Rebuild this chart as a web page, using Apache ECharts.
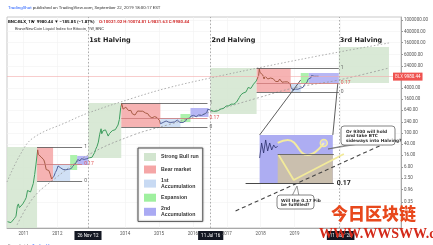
<!DOCTYPE html>
<html>
<head>
<meta charset="utf-8">
<script src="https://cdn.jsdelivr.net/npm/echarts@6/dist/echarts.min.js"></script>
<style>html,body{margin:0;padding:0;background:#fff}#chart{width:433px;height:245px}</style>
</head>
<body>
<div id="chart"></div>
<script>
// weekly BLX closes (decimal year, USD)
var priceDates = [2010.53,2010.58,2010.63,2010.68,2010.73,2010.78,2010.82,2010.85,2010.88,2010.93,2010.98,
  2011.04,2011.08,2011.12,2011.17,2011.21,2011.25,2011.29,2011.33,2011.37,2011.42,2011.44,2011.48,2011.52,2011.56,2011.60,2011.63,2011.67,2011.71,2011.75,2011.79,2011.83,2011.87,2011.90,2011.94,2011.98,
  2012.02,2012.06,2012.10,2012.13,2012.17,2012.21,2012.25,2012.29,2012.33,2012.37,2012.41,2012.45,2012.49,2012.52,2012.56,2012.60,2012.64,2012.67,2012.71,2012.75,2012.79,2012.83,2012.87,2012.90,2012.94,2012.98,
  2013.02,2013.06,2013.10,2013.13,2013.17,2013.21,2013.25,2013.29,2013.31,2013.35,2013.38,2013.42,2013.46,2013.50,2013.54,2013.58,2013.62,2013.67,2013.71,2013.75,2013.79,2013.83,2013.87,2013.90,2013.94,2013.98,
  2014.02,2014.06,2014.10,2014.13,2014.17,2014.21,2014.25,2014.29,2014.33,2014.37,2014.41,2014.44,2014.48,2014.52,2014.56,2014.60,2014.63,2014.67,2014.71,2014.75,2014.79,2014.83,2014.87,2014.90,2014.94,2014.98,
  2015.02,2015.04,2015.08,2015.12,2015.17,2015.21,2015.25,2015.29,2015.35,2015.40,2015.46,2015.50,2015.54,2015.58,2015.62,2015.67,2015.71,2015.75,2015.79,2015.83,2015.87,2015.90,2015.94,2015.98,
  2016.02,2016.06,2016.10,2016.13,2016.17,2016.21,2016.25,2016.29,2016.33,2016.37,2016.41,2016.44,2016.48,2016.52,2016.56,2016.60,2016.63,2016.67,2016.71,2016.75,2016.79,2016.83,2016.87,2016.90,2016.94,2016.98,
  2017.02,2017.06,2017.10,2017.13,2017.17,2017.21,2017.25,2017.29,2017.33,2017.37,2017.41,2017.44,2017.48,2017.52,2017.56,2017.60,2017.63,2017.67,2017.71,2017.75,2017.79,2017.83,2017.87,2017.90,2017.94,2017.96,2017.98,
  2018.02,2018.06,2018.10,2018.13,2018.17,2018.21,2018.25,2018.29,2018.33,2018.37,2018.41,2018.44,2018.48,2018.52,2018.56,2018.60,2018.63,2018.67,2018.71,2018.75,2018.79,2018.83,2018.87,2018.90,2018.94,2018.96,2018.98,
  2019.02,2019.06,2019.10,2019.13,2019.17,2019.21,2019.25,2019.29,2019.33,2019.37,2019.40,2019.44,2019.48,2019.50,2019.52,2019.54,2019.58,2019.62,2019.65,2019.69,2019.71,2019.72];
var priceValues = [0.07,0.07,0.065,0.062,0.09,0.11,0.25,0.3,0.22,0.25,0.3,
  0.4,0.5,0.9,0.88,0.8,0.78,1.6,3.3,7.8,25,17,15,14,13.5,11,8.5,5,5.2,4.6,3.4,2.3,2.2,2.9,3.9,4.8,
  6.7,6.0,5.7,4.9,5.0,4.8,4.9,5.0,5.1,5.1,5.4,6.4,6.8,7.8,9.2,11.3,10.5,10.2,12.2,12.4,11.4,11.0,12.1,12.5,13.0,13.5,
  13.5,15.5,20,26,33,47,90,140,93,120,118,128,100,77,95,105,120,125,130,133,190,300,800,1100,700,760,
  820,870,620,580,630,480,450,430,450,600,640,590,630,590,580,510,480,480,400,380,340,360,380,375,350,320,
  270,210,230,235,260,265,245,240,235,230,245,270,285,280,235,230,235,245,270,325,380,330,395,430,
  420,385,375,410,435,410,415,440,460,455,530,690,660,650,655,590,575,580,605,620,650,710,740,735,770,900,
  900,920,1010,1050,1180,1050,1080,1250,1450,1800,2200,2500,2600,2400,2800,3400,4100,4600,3800,4300,5400,6000,7000,8000,11000,19000,14000,
  14000,11500,8200,10400,10300,8200,7000,8900,9300,8400,7500,6700,6100,6700,8200,7000,6300,7000,6500,6600,6500,6400,5500,4000,3500,3300,3800,
  3600,3550,3550,3700,3850,4000,4150,5100,5200,6400,8100,8000,9000,11000,11200,10200,10300,11500,10300,10100,10300,9980.44];
var lastPrice = 9980.44;

// y axis tick labels (log scale, roughly x2.5 per step)
var yTickLabels = ['0.35','0.96','2.50','6.00','16.00','40.00','100.00','240.00','640.00','1600.00','4000.00','24000.00','60000.00','160000.00','400000.00','1000000.00'];
// x axis labels, some are the highlighted halving dates
var xTickValues = [2011, 2012, 2012.904, 2014, 2015, 2016, 2016.525, 2017, 2018, 2019, 2020.36];
var xTickLabels = ['2011','2012',"26 Nov '12",'2014','2015','2016',"11 Jul '16",'2017','2018','2019',"11 May '20"];
var xHighlighted = ["26 Nov '12", "11 Jul '16", "11 May '20"];

var halvings = [2012.91, 2016.52, 2020.306];
var halvingNames = ['1st Halving', '2nd Halving', '3rd Halving'];

// boxes: [fromYear, toYear, topPrice, bottomPrice]
var bullBoxes = [[2010.514, 2011.401, 31.6, 0.0418], [2012.910, 2013.886, 1155, 12.8], [2016.519, 2017.880, 20240, 470], [2020.306, 2021.786, 112800, 5935]];
var bearBoxes = [[2011.401, 2011.874, 31.6, 1.96], [2013.886, 2015.040, 1155, 162], [2017.880, 2018.886, 20240, 2841]];
var accum1Boxes = [[2011.874, 2012.377, 7.86, 1.96], [2015.040, 2015.632, 339, 162], [2018.886, 2019.182, 5468, 2841]];
var expansionBoxes = [[2012.377, 2012.585, 16.4, 4.81], [2015.632, 2015.928, 470, 244], [2019.182, 2019.419, 13450, 5935]];
var accum2Boxes = [[2012.585, 2012.910, 15.1, 7.24], [2015.928, 2016.460, 767, 368], [2019.419, 2020.306, 13450, 5935]];

// fib levels per cycle: [fromYear, toYear, price]
var fibOne = [[2011.401, 2012.732, 31.6], [2013.886, 2016.430, 1155], [2017.880, 2020.306, 20240]];
var fibMid = [[2011.401, 2012.732, 7.86], [2013.886, 2016.430, 339], [2017.880, 2020.306, 5935]];
var fibZero = [[2011.401, 2012.732, 1.96], [2013.886, 2016.430, 162], [2017.880, 2020.306, 2841]];

// dotted log bands
var upperBandYears = [2010.514, 2010.898, 2011.283, 2012.289, 2012.910, 2014.241, 2015.247, 2016.519, 2018.206, 2020.159, 2021.786];
var upperBandPrices = [1.8, 16.4, 65.9, 244, 510, 1739, 3941, 8933, 23840, 69060, 156500];
var lowerBandYears = [2010.809, 2011.283, 2011.874, 2012.910, 2014.241, 2015.247, 2016.519, 2017.910, 2018.975, 2020.306, 2021.786];
var lowerBandPrices = [0.0535, 0.487, 2.12, 16.4, 84.3, 191, 553, 1739, 3941, 7586, 20240];

// zoomed inset drawing
var insetBox = [2017.969, 2020.129, 84.3, 1.66];
var insetTan = [2018.502, 2020.129, 17.8, 1.66];
var scribbleYears = [2017.969, 2018.028, 2018.087, 2018.147, 2018.206, 2018.266, 2018.325, 2018.384, 2018.443, 2018.502];
var scribblePrices = [12.8, 43.8, 19.3, 56, 22.8, 43.8, 24.7, 37.2, 29.1, 34.3];
var waveYears = [2018.502, 2018.798, 2019.389, 2019.863];
var wavePrices = [43.8, 56, 16.4, 43.8];
var vYears = [2018.531, 2018.975, 2020.454];
var vPrices = [16.4, 2.12, 17.8];
var insetFib = [2017.555, 2020.158, 1.66];
var dashTrend = [[2017.259, 0.168], [2021.638, 40.4]];
var connectors = [[[2019.182, 7586], [2017.969, 84.3]], [[2020.277, 5935], [2020.129, 84.3]]];

var bullRanges = [[2010.514, 2011.401], [2012.910, 2013.886], [2016.519, 2017.880]];
var bearRanges = [[2011.401, 2011.874], [2013.886, 2015.040], [2017.880, 2018.886]];

var myChart = echarts.init(document.getElementById('chart'), null, {renderer: 'canvas'});

function boxes(list) {
  return list.map(function (b) {
    return [{coord: [b[0], b[2]]}, {coord: [b[1], b[3]]}];
  });
}
function segs(list, label, color, type) {
  return list.map(function (s) {
    return [{coord: [s[0], s[2]], lineStyle: {color: color, type: type, width: 0.8},
      label: {show: true, position: 'end', formatter: label, fontSize: 5, color: color === '#c77' ? '#e05a5a' : '#666', distance: 2}},
      {coord: [s[1], s[2]]}];
  });
}
function pairs(xs, ys) {
  return xs.map(function (x, i) { return [x, ys[i]]; });
}

var boxSeries = [
  ['Strong Bull run', '#d2e5cf', bullBoxes],
  ['Bear market', '#f5a6a6', bearBoxes],
  ['1st Accumulation', '#c8daf3', accum1Boxes],
  ['Expansion', '#9ff09f', expansionBoxes],
  ['2nd Accumulation', '#aaaaf3', accum2Boxes]
].map(function (d) {
  return {
    name: d[0], type: 'line', data: [], itemStyle: {color: d[1]},
    markArea: {silent: true, itemStyle: {color: d[1], opacity: 0.85}, data: boxes(d[2])}
  };
});

var series = boxSeries.concat([
  {
    name: 'inset', type: 'line', data: [], silent: true,
    markArea: {silent: true, data: [
      [{coord: [insetBox[0], insetBox[2]], itemStyle: {color: '#a9a9f1', opacity: 0.95}}, {coord: [insetBox[1], insetBox[3]]}],
      [{coord: [insetTan[0], insetTan[2]], itemStyle: {color: '#cbc0aa', opacity: 0.95}}, {coord: [insetTan[1], insetTan[3]]}]
    ]},
    markLine: {silent: true, symbol: 'none', data: [
      [{coord: [insetTan[0], insetTan[2]], lineStyle: {color: '#555', width: 0.8, type: 'solid'}, label: {show: false}}, {coord: [insetTan[1] + 0.03, insetTan[2]]}],
      [{coord: [insetFib[0], insetFib[2]], lineStyle: {color: '#333', width: 0.9, type: 'solid'},
        label: {show: true, position: 'end', formatter: '0.17', fontSize: 7, fontWeight: 'bold', color: '#222', distance: 3}},
        {coord: [insetFib[1], insetFib[2]]}],
      [{coord: dashTrend[0], lineStyle: {color: '#444', width: 1.1, type: [4, 3]}, label: {show: false}}, {coord: dashTrend[1]}],
      [{coord: connectors[0][0], lineStyle: {color: '#333', width: 0.8, type: 'solid'}, label: {show: false}}, {coord: connectors[0][1]}],
      [{coord: connectors[1][0], lineStyle: {color: '#333', width: 0.8, type: 'solid'}, label: {show: false}}, {coord: connectors[1][1]}]
    ]}
  },
  {
    name: 'upper band', type: 'line', smooth: 0.4, symbol: 'none', silent: true,
    lineStyle: {color: '#999', width: 0.8, type: [1.5, 2]}, data: pairs(upperBandYears, upperBandPrices)
  },
  {
    name: 'lower band', type: 'line', smooth: 0.4, symbol: 'none', silent: true,
    lineStyle: {color: '#999', width: 0.8, type: [2, 2]}, data: pairs(lowerBandYears, lowerBandPrices)
  },
  {
    name: 'fib', type: 'line', data: [], silent: true,
    markLine: {silent: true, symbol: 'none',
      data: segs(fibOne, '1', '#555', 'solid').concat(segs(fibMid, '0.17', '#c77', 'solid')).concat(segs(fibZero, '0', '#555', 'solid'))}
  },
  {
    name: 'halvings', type: 'line', data: [], silent: true,
    markLine: {silent: true, symbol: 'none', label: {show: false},
      lineStyle: {color: '#999', width: 0.8, type: [1.5, 2]},
      data: halvings.map(function (h) { return {xAxis: h}; })},
    markPoint: {silent: true, symbol: 'circle', symbolSize: 0,
      label: {show: true, position: 'right', distance: 1, fontSize: 6.5, fontWeight: 'bold', color: '#222', fontFamily: 'DejaVu Sans'},
      data: halvings.map(function (h, i) { return {coord: [h, 200000], value: halvingNames[i], label: {formatter: halvingNames[i]}}; })}
  },
  {
    name: 'scribble', type: 'line', symbol: 'none', silent: true,
    lineStyle: {color: '#2a2f6a', width: 0.8}, data: pairs(scribbleYears, scribblePrices)
  },
  {
    name: 'wave', type: 'line', smooth: 0.5, silent: true, symbol: 'none',
    lineStyle: {color: '#f2eaa0', width: 2}, data: pairs(waveYears, wavePrices),
    markPoint: {silent: true, symbol: 'circle', symbolSize: 7,
      itemStyle: {color: 'rgba(255,255,255,0.3)', borderColor: '#f2eaa0', borderWidth: 1.5},
      data: [{coord: [waveYears[3], wavePrices[3]]}], label: {show: false}}
  },
  {
    name: 'v path', type: 'line', silent: true, symbol: 'none',
    lineStyle: {color: '#f2ea9a', width: 1.8}, data: pairs(vYears, vPrices)
  },
  {
    name: 'BLX', type: 'line', symbol: 'none', silent: true,
    lineStyle: {width: 1}, data: pairs(priceDates, priceValues),
    markLine: {silent: true, symbol: 'none',
      lineStyle: {color: '#f3abab', width: 0.6, type: 'solid'},
      label: {show: true, position: 'end', distance: -8, formatter: '{p|BLX} 9980.44',
        backgroundColor: '#ef5350', color: '#fff', fontSize: 4.5, padding: [1.5, 2],
        rich: {p: {color: '#ffd5d5', fontSize: 4.5}}},
      data: [{yAxis: lastPrice}]}
  }
]);

var priceIndex = series.length - 1;

var option = {
  animation: false,
  backgroundColor: '#fff',
  textStyle: {fontFamily: 'Roboto'},
  title: [
    {left: 3, top: 1, text: '{b|TradingShot} published on TradingView.com, September 22, 2019 18:00:17 EST',
      textStyle: {fontSize: 4.4, fontWeight: 'normal', color: '#333', rich: {b: {color: '#2962ff', fontSize: 4.4}}}},
    {left: 3, top: 8, text: '{k|BNC:BLX, 1W  9980.44 ▼ −185.85 (−1.87%)} {r|O:10021.02 H:10074.81 L:9831.63 C:9980.44}',
      textStyle: {rich: {k: {fontSize: 4.4, fontWeight: 'bold', color: '#111'}, r: {fontSize: 4.4, color: '#d32f2f'}}}},
    {left: 10, top: 22, text: 'BraveNewCoin Liquid Index for Bitcoin, 1W, BNC',
      textStyle: {fontSize: 4.2, fontWeight: 'normal', color: '#444'}},
    {left: 3, top: 239, text: 'Snapshot by {b|TradingView}',
      textStyle: {fontSize: 4.2, fontWeight: 'normal', color: '#555', rich: {b: {color: '#2962ff', fontSize: 4.2}}}}
  ],
  legend: {
    data: ['Strong Bull run', 'Bear market', '1st Accumulation', 'Expansion', '2nd Accumulation'],
    orient: 'vertical', left: 138, top: 148,
    padding: [5, 4, 4, 6], itemGap: 4.5, itemWidth: 12, itemHeight: 8, icon: 'rect',
    backgroundColor: '#fff', borderColor: '#555', borderWidth: 1,
    shadowColor: 'rgba(0,0,0,0.25)', shadowBlur: 2,
    selectedMode: false,
    formatter: function (name) { return name.replace(/^(\w+) Accumulation$/, '$1\nAccumulation'); },
    textStyle: {fontSize: 5.2, fontWeight: 'bold', color: '#333', lineHeight: 5.6, fontFamily: 'Liberation Sans'}
  },
  grid: {left: 7, right: 32, top: 17, bottom: 17, show: true, borderColor: '#bbb', borderWidth: 0.8},
  xAxis: {
    type: 'value', min: 2010.514, max: 2022.141,
    axisLine: {show: true, lineStyle: {color: '#999', width: 0.8}},
    axisTick: {show: false, customValues: xTickValues},
    splitLine: {show: true, lineStyle: {color: '#f1f1f1', width: 0.6}},
    axisLabel: {
      customValues: xTickValues, margin: 3, fontSize: 4.5, color: '#555',
      formatter: function (v) {
        for (var i = 0; i < xTickValues.length; i++) {
          if (Math.abs(xTickValues[i] - v) < 1e-6) {
            var t = xTickLabels[i];
            return xHighlighted.indexOf(t) >= 0 ? '{hl|' + t + '}' : t;
          }
        }
        return '';
      },
      rich: {hl: {backgroundColor: '#131722', color: '#fff', fontSize: 4.5, padding: [2, 3]}}
    }
  },
  yAxis: {
    type: 'log', logBase: 2.5, position: 'right', min: 0.0418, max: 1310000,
    axisLine: {show: true, lineStyle: {color: '#999', width: 0.8}},
    axisTick: {show: true, length: 2, customValues: yTickLabels.map(Number), lineStyle: {color: '#999'}},
    splitLine: {show: true, lineStyle: {color: '#f1f1f1', width: 0.6}},
    axisLabel: {
      customValues: yTickLabels.map(Number), margin: 3, fontSize: 4.5, color: '#555',
      formatter: function (v) {
        for (var i = 0; i < yTickLabels.length; i++) {
          if (Math.abs(Number(yTickLabels[i]) - v) < 1e-6 * Math.max(1, v)) return yTickLabels[i];
        }
        return '';
      }
    }
  },
  visualMap: {
    type: 'piecewise', show: false, dimension: 0, seriesIndex: priceIndex,
    pieces: bullRanges.map(function (r) { return {gte: r[0], lt: r[1], color: '#3e9d5e'}; })
      .concat(bearRanges.map(function (r) { return {gte: r[0], lt: r[1], color: '#a65a44'}; })),
    outOfRange: {color: '#55639a'}
  },
  graphic: [
    // callout: Or 9300 ...
    {type: 'polygon', z: 50, shape: {points: [[352, 144], [359, 144], [328, 149]]}, style: {fill: '#fff', stroke: '#666', lineWidth: 0.7}},
    {type: 'rect', z: 51, shape: {x: 341, y: 126, width: 54, height: 19, r: 3}, style: {fill: '#fff', stroke: '#666', lineWidth: 0.8}},
    {type: 'text', z: 52, left: 346, top: 129, style: {text: 'Or 9300 will hold\nand take BTC\nsideways into Halving?', fontSize: 4.3, lineHeight: 4.8, fontWeight: 'bold', fill: '#333', fontFamily: 'DejaVu Sans'}},
    // callout: Will the 0.17 Fib ...
    {type: 'polygon', z: 50, shape: {points: [[292, 196], [299, 196], [297, 186]]}, style: {fill: '#fff', stroke: '#666', lineWidth: 0.7}},
    {type: 'rect', z: 51, shape: {x: 277, y: 195, width: 37, height: 14, r: 3}, style: {fill: '#fff', stroke: '#666', lineWidth: 0.8}},
    {type: 'text', z: 52, left: 281, top: 198, style: {text: 'Will the 0.17 Fib\nbe fulfilled?', fontSize: 4.3, lineHeight: 4.8, fontWeight: 'bold', fill: '#333', fontFamily: 'DejaVu Sans'}},
    // watermark
    {type: 'text', z: 100, left: 331, top: 205, style: {text: '今日区块链', font: '900 17px "Noto Sans CJK SC"', fill: '#e8481c'}},
    {type: 'text', z: 100, left: 319, top: 227, style: {text: 'WWW.WWSWW.cn', font: 'bold 14px "Liberation Serif"', fill: '#d42a1a'}}
  ],
  series: series
};

myChart.setOption(option);
</script>
</body>
</html>
